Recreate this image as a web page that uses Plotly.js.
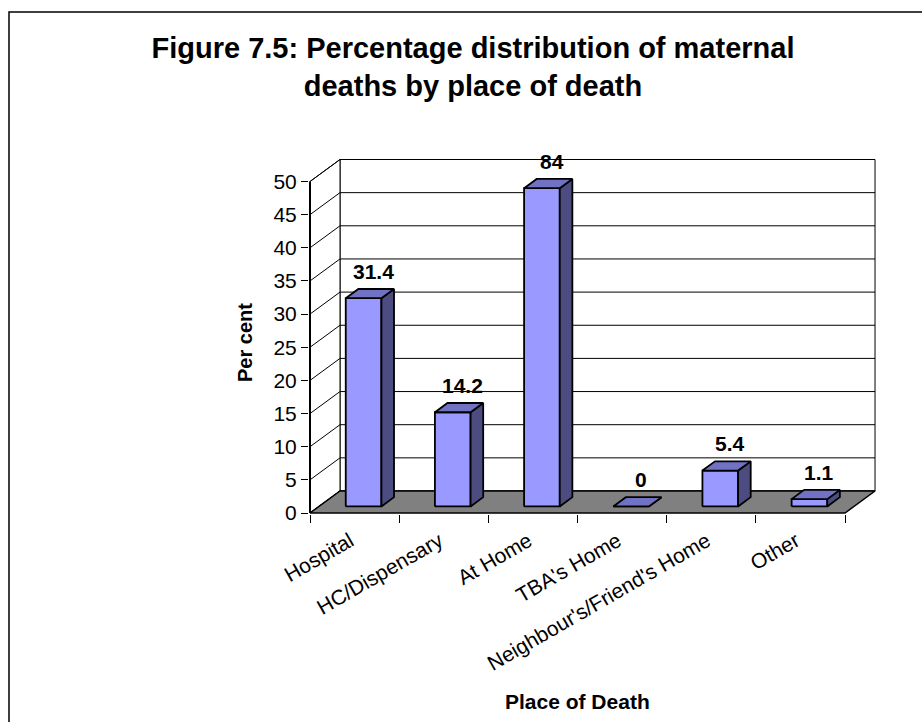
<!DOCTYPE html>
<html><head><meta charset="utf-8">
<script src="https://cdn.plot.ly/plotly-3.0.1.min.js"></script>
<style>html,body{margin:0;padding:0;background:#fff}#chart{width:922px;height:722px}</style>
</head><body><div id="chart"></div>
<script>
// ---- data ----
const categories = ["Hospital", "HC/Dispensary", "At Home", "TBA's Home", "Neighbour's/Friend's Home", "Other"];
const values = [31.4, 14.2, 84, 0, 5.4, 1.1];
const valueLabels = ["31.4", "14.2", "84", "0", "5.4", "1.1"];
const yTickValues = [0, 5, 10, 15, 20, 25, 30, 35, 40, 45, 50];

// ---- geometry / style ----
const FONT = "Liberation Sans, Arial, sans-serif";
const W = 922, H = 722;
const mL = 309, mR = 46, mT = 157, mB = 208;
const plotW = W - mL - mR, plotH = H - mT - mB;
const pxX = 89.17, pxY = 6.63;          // pixels per category / per value unit
const axisMax = 50;                     // value axis top
const barCap = 48;                      // visible height for bars beyond the axis
const DX = 30 / pxX, DY = 22 / pxY;     // full depth projection
const dFront = 0.3, dBack = 0.72, barW = 0.4;
const nCat = categories.length;
const xr0 = -1 / pxX, xr1 = xr0 + plotW / pxX;
const yr0 = -1 / pxY, yr1 = yr0 + plotH / pxY;

function P(x, y, d) { return [x + d * DX, y + d * DY]; }
function poly(pts, fill, lw) {
  const c = pts.concat([pts[0]]);
  return { type: 'scatter', mode: 'lines', x: c.map(p => p[0]), y: c.map(p => p[1]),
    fill: 'toself', fillcolor: fill, line: { color: '#000', width: lw || 1.5 },
    hoverinfo: 'skip', showlegend: false, xaxis: 'x', yaxis: 'y' };
}

const traces = [];
// back wall
traces.push(poly([P(0,0,1), P(nCat,0,1), P(nCat,axisMax,1), P(0,axisMax,1)], '#ffffff', 1));
// left wall
traces.push(poly([P(0,0,0), P(0,0,1), P(0,axisMax,1), P(0,axisMax,0)], '#ffffff', 1));
// gridlines (back wall) and left-wall diagonals
const gx = [], gy = [];
yTickValues.forEach(t => {
  const a = P(0,t,1), b = P(nCat,t,1), f = P(0,t,0);
  gx.push(a[0], b[0], null, f[0], a[0], null);
  gy.push(a[1], b[1], null, f[1], a[1], null);
});
traces.push({ type: 'scatter', mode: 'lines', x: gx, y: gy, line: { color: '#000', width: 1 },
  hoverinfo: 'skip', showlegend: false, xaxis: 'x', yaxis: 'y' });
// floor
traces.push(poly([P(0,0,0), P(nCat,0,0), P(nCat,0,1), P(0,0,1)], '#808080', 1.5));
// bars
const annotations = [];
values.forEach((v, i) => {
  const c = i + 0.5, h = Math.min(v, barCap);
  const xl = c - barW / 2, xr = c + barW / 2;
  traces.push(poly([P(xl,0,dFront), P(xr,0,dFront), P(xr,h,dFront), P(xl,h,dFront)], '#9999ff', 1.8));
  traces.push(poly([P(xr,0,dFront), P(xr,0,dBack), P(xr,h,dBack), P(xr,h,dFront)], '#4c4c80', 1.8));
  traces.push(poly([P(xl,h,dFront), P(xr,h,dFront), P(xr,h,dBack), P(xl,h,dBack)], '#7272c4', 1.8));
  const lp = P(c, h, dBack);
  annotations.push({ x: c + (dFront + dBack) / 2 * DX + 0.04, y: lp[1], xref: 'x', yref: 'y',
    text: '<b>' + valueLabels[i] + '</b>', showarrow: false, yanchor: 'bottom', yshift: 4,
    font: { family: FONT, size: 21, color: '#000' } });
});
// front value-axis line
traces.push({ type: 'scatter', mode: 'lines', x: [0, 0], y: [0, axisMax],
  line: { color: '#000', width: 2 }, hoverinfo: 'skip', showlegend: false, xaxis: 'x', yaxis: 'y' });
// invisible trace carrying the category axis
traces.push({ type: 'scatter', mode: 'markers', x: categories.map((_, i) => i + 0.5),
  y: categories.map(() => 0), marker: { opacity: 0, size: 1 }, hoverinfo: 'skip',
  showlegend: false, xaxis: 'x2', yaxis: 'y' });

// axis titles
const px2paperX = px => (px - mL) / plotW;
const px2paperY = py => (H - mB - py) / plotH;
annotations.push({ xref: 'paper', yref: 'paper', x: px2paperX(245), y: px2paperY(343),
  xanchor: 'center', yanchor: 'middle',
  text: '<b>Per cent</b>', textangle: -90, showarrow: false,
  font: { family: FONT, size: 20, color: '#000' } });
annotations.push({ xref: 'paper', yref: 'paper', x: px2paperX(577), y: px2paperY(701),
  xanchor: 'center', yanchor: 'middle',
  text: '<b>Place of Death</b>', showarrow: false,
  font: { family: FONT, size: 21, color: '#000' } });

const layout = {
  width: W, height: H,
  margin: { l: mL, r: mR, t: mT, b: mB, pad: 0 },
  paper_bgcolor: '#fff', plot_bgcolor: 'rgba(0,0,0,0)',
  showlegend: false,
  title: { text: '<b>Figure 7.5: Percentage distribution of maternal<br>deaths by place of death</b>',
    font: { family: FONT, size: 29, color: '#000' },
    xref: 'container', yref: 'container', x: 473 / W, xanchor: 'center', y: 1 - 58 / H, yanchor: 'middle' },
  xaxis: { range: [xr0, xr1], showgrid: false, zeroline: false, showline: false,
    tickmode: 'array', tickvals: [0,1,2,3,4,5,6].slice(0, nCat + 1), ticks: 'outside', ticklen: 8,
    tickcolor: '#000', tickwidth: 1, showticklabels: false, fixedrange: true },
  xaxis2: { overlaying: 'x', anchor: 'y', side: 'bottom', range: [xr0, xr1],
    showgrid: false, zeroline: false, showline: false, ticks: '',
    tickmode: 'array', tickvals: categories.map((_, i) => i + 0.45), ticktext: categories,
    tickangle: -30, ticklabelstandoff: 10,
    tickfont: { family: FONT, size: 21, color: '#000' } },
  yaxis: { range: [yr0, yr1], showgrid: false, zeroline: false, showline: false,
    tickmode: 'array', tickvals: yTickValues, ticks: 'outside', ticklen: 7, tickcolor: '#000',
    tickfont: { family: FONT, size: 21, color: '#000' } },
  shapes: [{ type: 'rect', xref: 'paper', yref: 'paper',
    x0: px2paperX(9), x1: px2paperX(940), y0: px2paperY(12), y1: px2paperY(740),
    line: { color: '#000', width: 1.5 }, fillcolor: 'rgba(0,0,0,0)' }],
  annotations: annotations
};
Plotly.newPlot('chart', traces, layout, { staticPlot: true, displayModeBar: false });
</script>
</body></html>
